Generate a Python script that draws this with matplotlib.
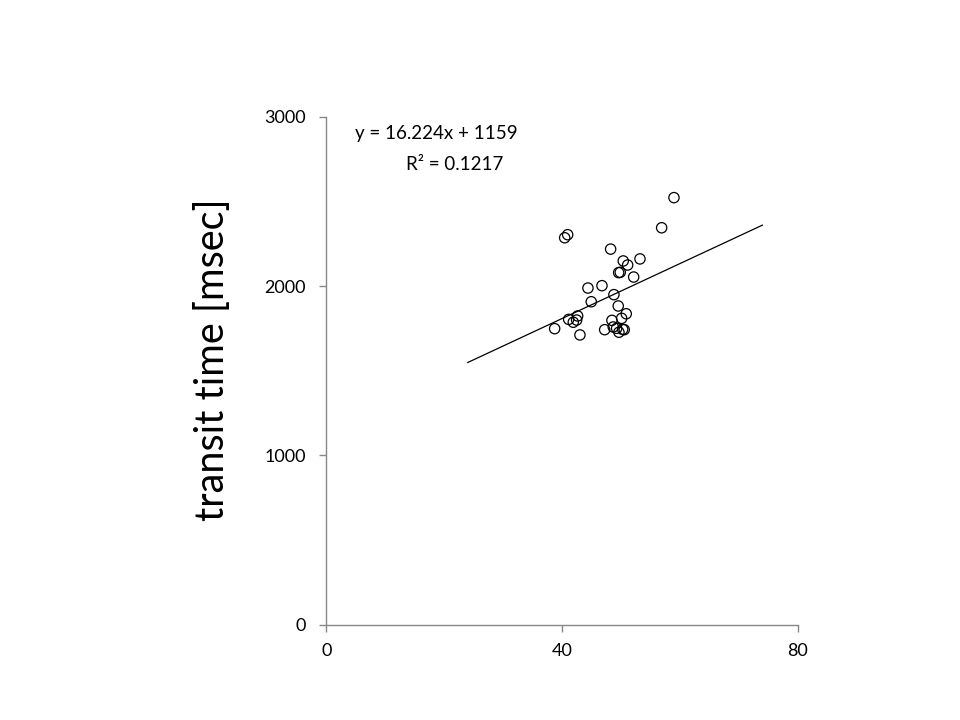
# transit time 散点图 + 线性趋势线
import numpy as np
import matplotlib.pyplot as plt

plt.rcParams['font.family'] = ['Lato', 'DejaVu Sans']

# 读图得到的数据点
x_vals = [58.99, 56.90, 40.44, 40.95, 48.24, 50.38, 51.13, 53.22, 49.60, 49.87,
          52.15, 44.39, 46.77, 48.80, 44.95, 49.53, 50.89, 41.12, 42.64, 41.90,
          42.47, 38.74, 43.03, 47.23, 48.46, 50.11, 48.68, 49.26, 49.65, 50.28,
          50.55]
y_vals = [2522, 2344, 2285, 2303, 2218, 2148, 2124, 2160, 2079, 2081,
          2053, 1988, 2002, 1949, 1907, 1882, 1836, 1803, 1823, 1786,
          1799, 1748, 1711, 1742, 1797, 1809, 1758, 1750, 1727, 1744,
          1742]

# 趋势线 y = 16.224x + 1159
slope = 16.224
intercept = 1159
trend_x = [24.0, 74.0]
eq_text = 'y = 16.224x + 1159'
r2_text = 'R² = 0.1217'

x_ticks = [0, 40, 80]
y_ticks = [0, 1000, 2000, 3000]


def main():
    fig = plt.figure(figsize=(9.6, 7.2), dpi=100)
    ax = fig.add_axes([0.340, 0.1325, 0.491, 0.7054])

    tx = np.array(trend_x)
    ax.plot(tx, slope * tx + intercept, color='black', linewidth=0.9)
    ax.scatter(x_vals, y_vals, s=55, facecolors='none', edgecolors='black',
               linewidths=0.9, zorder=3)

    ax.set_xlim(0, 80)
    ax.set_ylim(0, 3000)
    ax.set_xticks(x_ticks)
    ax.set_yticks(y_ticks)

    # 只保留左边和下边的坐标轴
    for side in ['top', 'right']:
        ax.spines[side].set_visible(False)
    for side in ['left', 'bottom']:
        ax.spines[side].set_color('#888888')
        ax.spines[side].set_linewidth(1.0)
    ax.tick_params(axis='both', direction='out', length=5, width=1.0,
                   color='#888888', labelsize=13, labelcolor='black')
    ax.tick_params(axis='y', pad=10)
    ax.tick_params(axis='x', pad=8)

    ax.text(0.233, 0.966, eq_text, transform=ax.transAxes, ha='center',
            va='center', fontsize=13.5)
    ax.text(0.273, 0.906, r2_text, transform=ax.transAxes, ha='center',
            va='center', fontsize=13.5)

    fig.text(212 / 960, 0.5007, 'transit time [msec]', rotation=90,
             ha='center', va='center', fontsize=28.5)

    fig.savefig('out.png', dpi=100)


if __name__ == '__main__':
    main()
